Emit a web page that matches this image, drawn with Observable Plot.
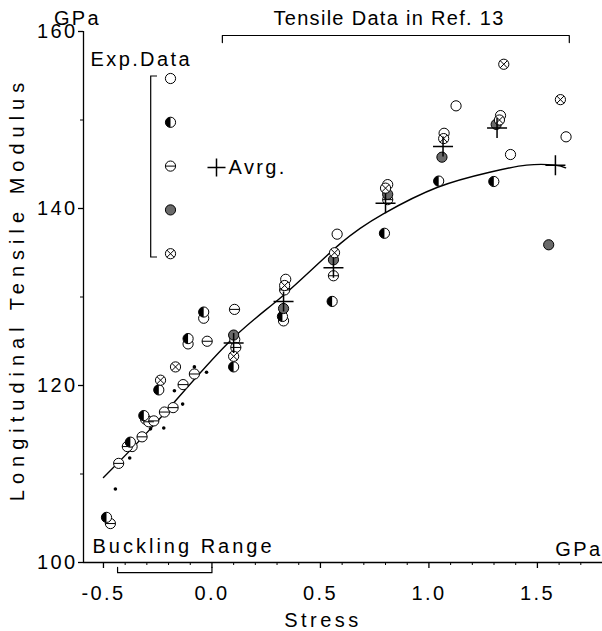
<!DOCTYPE html>
<html><head><meta charset="utf-8">
<script src="https://cdn.jsdelivr.net/npm/d3@7"></script>
<script src="https://cdn.jsdelivr.net/npm/@observablehq/plot@0.6"></script>
<style>body{margin:0;background:#fff;} #chart{position:relative;width:602px;height:631px;}</style>
</head><body><div id="chart"></div>
<script>
// ---- axis ticks ----
const xTicks = [-0.5, 0.0, 0.5, 1.0, 1.5];
const xMinor = [-0.4,-0.3,-0.2,-0.1,0.1,0.2,0.3,0.4,0.6,0.7,0.8,0.9,1.1,1.2,1.3,1.4,1.6,1.7];
const yTicks = [100, 120, 140, 160];
const yMinor = [110, 130, 150];

// ---- experimental data (Stress GPa, Modulus GPa) per symbol ----
const openX  = [-0.306,-0.368,-0.11,-0.038,0.105,0.34,0.33,0.577,0.81,1.07,1.125,1.33,1.376,1.632];
const openY  = [116.2,113.1,124.7,127.6,125.2,132.0,127.3,137.1,142.7,148.5,151.6,150.5,146.1,148.1];
const halfX  = [-0.486,-0.376,-0.314,-0.245,-0.11,-0.038,0.10,0.325,0.554,0.795,1.045,1.299];
const halfY  = [105.1,113.6,116.6,119.5,125.3,128.3,122.1,127.8,129.5,137.2,143.1,143.05];
const thetaX = [-0.468,-0.43,-0.39,-0.322,-0.291,-0.268,-0.219,-0.179,-0.133,-0.081,-0.022,0.104,0.11,0.335,0.56,0.81];
const thetaY = [104.4,111.2,113.1,114.2,115.9,116.0,117.0,117.5,120.1,121.3,125.0,128.6,124.3,130.8,132.4,141.0];
const grayX  = [0.10,0.33,0.56,0.81,1.06,1.31,1.552];
const grayY  = [125.7,128.7,134.2,141.6,145.8,149.5,135.9];
const crossX = [-0.237,-0.168,0.10,0.335,0.565,0.80,1.068,1.325,1.345,1.606];
const crossY = [120.6,122.1,123.3,131.3,135.0,142.3,147.9,150.0,156.3,152.3];
const dotX   = [-0.445,-0.379,-0.283,-0.222,-0.135,-0.173,-0.081,-0.025];
const dotY   = [108.3,111.8,115.1,115.2,117.9,119.4,122.1,121.5];
// averages
const avgX = [0.10,0.33,0.56,0.80,1.065,1.314,1.583];
const avgY = [124.8,129.5,133.3,140.6,147.0,149.1,144.9];
// fitted curve
const curveX = [-0.5,-0.25,0.07,0.33,0.59,0.79,1.04,1.28,1.45,1.58,1.63];
const curveY = [109.6,116.0,124.7,130.2,136.0,139.4,142.4,144.1,144.9,144.9,144.6];
// ranges
const tensileRange = [0.048, 1.647];
const bucklingRange = [-0.435, 0.0];
const legendTypes = ["open","half","theta","gray","cross"];

const zip = (xs, ys) => xs.map((x, i) => ({x, y: ys[i]}));

// ---- custom symbols ----
const rOf = s => Math.sqrt(s / Math.PI);
const halfLeft = {draw(c, s){const r=rOf(s); c.moveTo(0,-r); c.arc(0,0,r,-Math.PI/2,Math.PI/2,true); c.closePath();}};
const hBar = {draw(c, s){const r=rOf(s); c.moveTo(-r,0); c.lineTo(r,0);}};
const xCross = {draw(c, s){const r=rOf(s)*0.7071; c.moveTo(-r,-r); c.lineTo(r,r); c.moveTo(-r,r); c.lineTo(r,-r);}};
const plusSym = {draw(c, s){const r=rOf(s); c.moveTo(-r,0); c.lineTo(r,0); c.moveTo(0,-r); c.lineTo(0,r);}};

const R = 5.1;
function symbolMarks(type, data, pos) {
  const b = {...pos, r: R};
  const circle = Plot.dot(data, {...b, fill: "white", stroke: "black", strokeWidth: 1});
  switch (type) {
    case "open": return [circle];
    case "half": return [circle, Plot.dot(data, {...b, symbol: halfLeft, fill: "black", stroke: "none"})];
    case "theta": return [circle, Plot.dot(data, {...b, symbol: hBar, fill: "none", stroke: "black", strokeWidth: 1})];
    case "gray": return [Plot.dot(data, {...b, fill: "#6a6a6a", stroke: "black", strokeWidth: 1})];
    case "cross": return [circle, Plot.dot(data, {...b, symbol: xCross, fill: "none", stroke: "black", strokeWidth: 1})];
    case "dot": return [Plot.dot(data, {...pos, r: 1.8, fill: "black", stroke: "none"})];
  }
}

const xy = {x: "x", y: "y"};
const xDomain = [-0.592, 1.80];

const legendMarks = legendTypes.flatMap((t, i) =>
  symbolMarks(t, [0], {frameAnchor: "top-left", dx: 87, dy: 47 + i * 43.8}));

const topBracket = [
  {x: tensileRange[0], y: 158.75}, {x: tensileRange[0], y: 159.55},
  {x: tensileRange[1], y: 159.55}, {x: tensileRange[1], y: 158.75}];
const botBracket = [
  {x: bucklingRange[0], y: 99.45}, {x: bucklingRange[0], y: 98.85},
  {x: bucklingRange[1], y: 98.85}, {x: bucklingRange[1], y: 99.45}];

const T = {lineAnchor: "middle"};
const chart = Plot.plot({
  width: 602, height: 631,
  marginLeft: 83, marginRight: 0, marginTop: 31, marginBottom: 69,
  x: {domain: xDomain},
  y: {domain: [100, 160]},
  style: {fontFamily: "'Liberation Sans', Arial, sans-serif", fontSize: "20px", letterSpacing: "2.4px", background: "white", color: "black"},
  marks: [
    Plot.ruleX([xDomain[0]], {stroke: "black", strokeWidth: 1.3}),
    Plot.ruleY([100], {stroke: "black", strokeWidth: 1.3}),
    Plot.axisX(xTicks, {tickSize: 6, tickPadding: 17, tickFormat: d => d.toFixed(1), label: null, strokeWidth: 1.3}),
    Plot.axisX(xMinor, {tickSize: 3, tickFormat: () => "", label: null}),
    Plot.axisY(yTicks, {tickSize: 5, tickPadding: 1, label: null, strokeWidth: 1.3}),
    Plot.axisY(yMinor, {tickSize: 3, tickFormat: () => "", label: null}),
    Plot.line(topBracket, {x: "x", y: "y", stroke: "black", strokeWidth: 1.2}),
    Plot.line(botBracket, {x: "x", y: "y", stroke: "black", strokeWidth: 1.2}),
    Plot.line(zip(curveX, curveY), {x: "x", y: "y", curve: "natural", stroke: "black", strokeWidth: 1.4}),
    ...symbolMarks("dot", zip(dotX, dotY), xy),
    ...symbolMarks("open", zip(openX, openY), xy),
    ...symbolMarks("theta", zip(thetaX, thetaY), xy),
    ...symbolMarks("half", zip(halfX, halfY), xy),
    ...symbolMarks("gray", zip(grayX, grayY), xy),
    ...symbolMarks("cross", zip(crossX, crossY), xy),
    Plot.dot(zip(avgX, avgY), {x: "x", y: "y", symbol: plusSym, r: 10, fill: "none", stroke: "black", strokeWidth: 1.5}),
    // legend
    ...legendMarks,
    Plot.text(["Exp.Data"], {...T, frameAnchor: "top-left", dx: 7, dy: 28, textAnchor: "start"}),
    Plot.dot([0], {frameAnchor: "top-left", dx: 133, dy: 136, symbol: plusSym, r: 9, fill: "none", stroke: "black", strokeWidth: 1.5}),
    Plot.text(["Avrg."], {...T, frameAnchor: "top-left", dx: 145, dy: 136, textAnchor: "start"}),
    // labels
    Plot.text(["GPa"], {...T, frameAnchor: "top-left", dx: -6, dy: -13, textAnchor: "middle"}),
    Plot.text(["Longitudinal Tensile Modulus"], {...T, frameAnchor: "left", dx: -66, dy: -8, rotate: -90, textAnchor: "middle"}),
    Plot.text(["Stress"], {...T, frameAnchor: "bottom", dx: -20, dy: 58, textAnchor: "middle"}),
    Plot.text(["GPa"], {...T, frameAnchor: "bottom-right", dx: 0, dy: -13, textAnchor: "end"}),
    Plot.text(["Buckling Range"], {...T, frameAnchor: "bottom-left", dx: 9, dy: -16, textAnchor: "start"}),
    Plot.text(["Tensile Data in Ref. 13"], {...T, frameAnchor: "top", dx: 46, dy: -13, textAnchor: "middle"})
  ]
});

// per-label letter spacing of the original typesetting
const spacing = {"Tensile Data in Ref. 13": "1.3px", "Longitudinal Tensile Modulus": "6px", "Stress": "3.5px", "Buckling Range": "3px"};
d3.select(chart).selectAll("text").each(function() {
  const s = spacing[this.textContent];
  if (s) this.style.letterSpacing = s;
});

// legend bracket (layout annotation)
d3.select(chart).append("path")
  .attr("d", "M157,76H150.7V257H157")
  .attr("fill", "none").attr("stroke", "black").attr("stroke-width", 1.2);

document.getElementById("chart").appendChild(chart);
</script>
</body></html>
